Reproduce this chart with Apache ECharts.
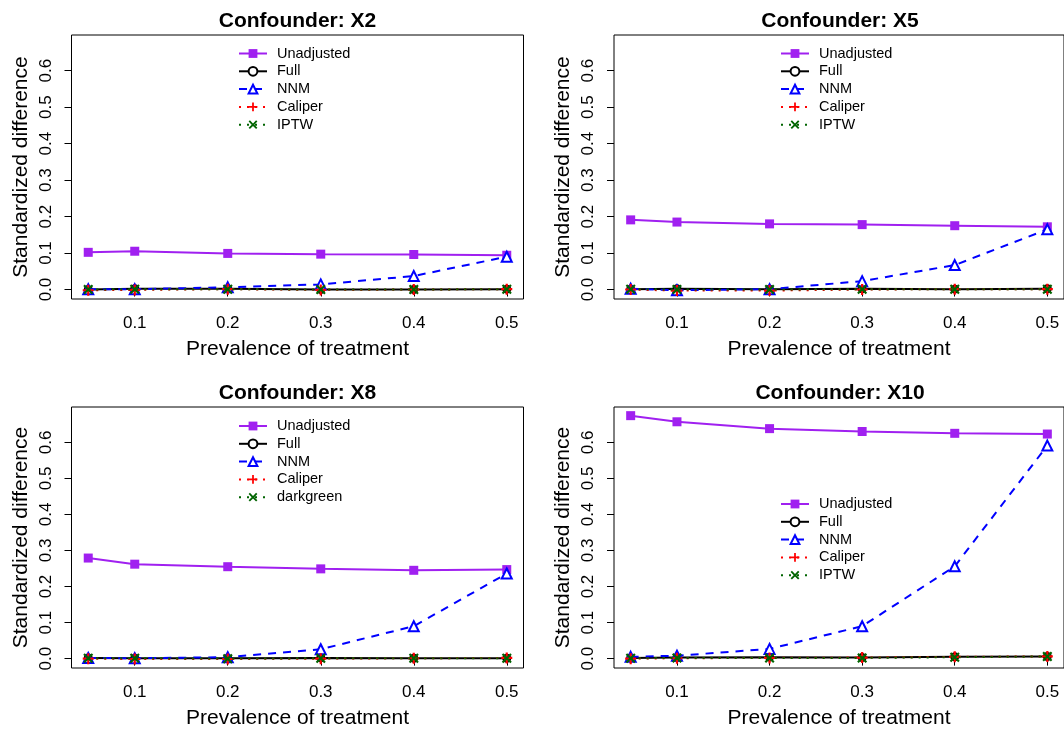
<!DOCTYPE html>
<html>
<head>
<meta charset="utf-8">
<script src="https://cdn.jsdelivr.net/npm/echarts@6/dist/echarts.min.js"></script>
<style>
  html, body { margin: 0; padding: 0; background: #fff; }
  #chart { width: 1064px; height: 730px; }
</style>
</head>
<body>
<div id="chart"></div>
<script>
// ---------------- data ----------------
const prevalence = [0.05, 0.1, 0.2, 0.3, 0.4, 0.5];
const xTicks = [0.1, 0.2, 0.3, 0.4, 0.5];
const yTicks = [0, 0.1, 0.2, 0.3, 0.4, 0.5, 0.6];
const panelTitles = ['Confounder: X2', 'Confounder: X5', 'Confounder: X8', 'Confounder: X10'];
const xTitle = 'Prevalence of treatment';
const yTitle = 'Standardized difference';
const legendNamesX2 = ['Unadjusted', 'Full', 'NNM', 'Caliper', 'IPTW'];
const legendNamesX5 = ['Unadjusted', 'Full', 'NNM', 'Caliper', 'IPTW'];
const legendNamesX8 = ['Unadjusted', 'Full', 'NNM', 'Caliper', 'darkgreen'];
const legendNamesX10 = ['Unadjusted', 'Full', 'NNM', 'Caliper', 'IPTW'];

// Confounder X2
const unadjX2   = [0.102, 0.105, 0.099, 0.097, 0.096, 0.094];
const fullX2    = [0.000, 0.002, 0.002, 0.000, 0.000, 0.001];
const nnmX2     = [0.001, 0.001, 0.006, 0.014, 0.037, 0.090];
const caliperX2 = [-0.002, -0.001, 0.001, -0.001, 0.000, 0.001];
const iptwX2    = [0.000, 0.001, 0.001, 0.000, 0.000, 0.001];
// Confounder X5
const unadjX5   = [0.191, 0.185, 0.180, 0.178, 0.175, 0.172];
const fullX5    = [0.001, 0.002, 0.001, 0.002, 0.001, 0.002];
const nnmX5     = [0.002, -0.002, 0.001, 0.023, 0.067, 0.165];
const caliperX5 = [0.000, -0.003, -0.003, 0.000, 0.001, 0.001];
const iptwX5    = [0.001, 0.000, 0.000, 0.001, 0.001, 0.001];
// Confounder X8
const unadjX8   = [0.279, 0.262, 0.255, 0.249, 0.245, 0.247];
const fullX8    = [0.002, 0.001, 0.001, 0.002, 0.001, 0.001];
const nnmX8     = [0.002, 0.001, 0.004, 0.026, 0.090, 0.236];
const caliperX8 = [0.000, -0.001, -0.001, 0.000, 0.001, 0.002];
const iptwX8    = [0.001, 0.001, 0.000, 0.001, 0.001, 0.001];
// Confounder X10
const unadjX10   = [0.674, 0.657, 0.638, 0.630, 0.625, 0.623];
const fullX10    = [0.002, 0.003, 0.004, 0.003, 0.005, 0.006];
const nnmX10     = [0.005, 0.008, 0.027, 0.090, 0.256, 0.591];
const caliperX10 = [0.000, 0.001, 0.002, 0.003, 0.005, 0.006];
const iptwX10    = [0.001, 0.002, 0.002, 0.002, 0.004, 0.006];

// ---------------- layout / style ----------------
const FONT = 'Liberation Sans, Arial, Helvetica, sans-serif';
const grids = [
  { left: 71.5, top: 35, width: 452, height: 264 },
  { left: 614, top: 35, width: 452, height: 264 },
  { left: 71.5, top: 407, width: 452, height: 264 },
  { left: 614, top: 407, width: 452, height: 264 }
];
const legendPos = [
  { left: 238, top: 46 },
  { left: 780, top: 46 },
  { left: 238, top: 418.5 },
  { left: 780, top: 496.5 }
];
const PLUS = 'path://M4,0H6V4H10V6H6V10H4V6H0V4H4Z';
const CROSS = 'path://M1.5,0L5,3.5L8.5,0L10,1.5L6.5,5L10,8.5L8.5,10L5,6.5L1.5,10L0,8.5L3.5,5L0,1.5Z';

const styles = {
  Unadjusted: { color: '#A020F0', type: 'solid', symbol: 'rect', size: 9, width: 2 },
  Full: { color: '#000000', type: 'solid', symbol: 'emptyCircle', size: 7, width: 2 },
  NNM: { color: '#0000FF', type: [8, 7], symbol: 'emptyTriangle', size: 10, width: 2 },
  Caliper: { color: '#FF0000', type: [2, 6], symbol: PLUS, size: 11, width: 2 },
  IPTW: { color: '#006400', type: [2, 6], symbol: CROSS, size: 10, width: 2 }
};

const panelData = [
  { names: legendNamesX2, values: [unadjX2, fullX2, nnmX2, caliperX2, iptwX2] },
  { names: legendNamesX5, values: [unadjX5, fullX5, nnmX5, caliperX5, iptwX5] },
  { names: legendNamesX8, values: [unadjX8, fullX8, nnmX8, caliperX8, iptwX8] },
  { names: legendNamesX10, values: [unadjX10, fullX10, nnmX10, caliperX10, iptwX10] }
];
const styleKeys = ['Unadjusted', 'Full', 'NNM', 'Caliper', 'IPTW'];

const xAxes = [], yAxes = [], series = [], titles = [], legends = [];
grids.forEach((g, i) => {
  xAxes.push({
    type: 'value', gridIndex: i, min: 0.032, max: 0.518,
    axisLine: { show: false },
    splitLine: { show: false },
    axisTick: { show: true, inside: false, length: 7, customValues: xTicks, lineStyle: { color: '#000', width: 1 } },
    axisLabel: { show: true, customValues: xTicks, margin: 16, fontSize: 17, color: '#000', fontFamily: FONT,
      formatter: v => v.toFixed(1) },
    name: xTitle, nameLocation: 'middle', nameGap: 40,
    nameTextStyle: { fontSize: 21, color: '#000', fontFamily: FONT }
  });
  yAxes.push({
    type: 'value', gridIndex: i, min: -0.026, max: 0.698,
    axisLine: { show: false },
    splitLine: { show: false },
    axisTick: { show: true, inside: false, length: 7, customValues: yTicks, lineStyle: { color: '#000', width: 1 } },
    axisLabel: { show: true, customValues: yTicks, rotate: 90, margin: 17, fontSize: 17, color: '#000', fontFamily: FONT,
      formatter: v => v.toFixed(1) },
    name: yTitle, nameLocation: 'middle', nameGap: 40, nameRotate: 90,
    nameTextStyle: { fontSize: 21, color: '#000', fontFamily: FONT }
  });
  titles.push({
    text: panelTitles[i],
    left: g.left + g.width / 2, top: g.top - 24, textAlign: 'center', padding: 0,
    textStyle: { fontSize: 21, fontWeight: 'bold', color: '#000', fontFamily: FONT }
  });
  const pd = panelData[i];
  pd.values.forEach((vals, k) => {
    const st = styles[styleKeys[k]];
    series.push({
      type: 'line', name: pd.names[k], xAxisIndex: i, yAxisIndex: i,
      data: prevalence.map((p, j) => [p, vals[j]]),
      symbol: st.symbol, symbolSize: st.size, showAllSymbol: true,
      lineStyle: { color: st.color, width: st.width, type: st.type },
      itemStyle: { color: st.color, borderColor: st.color, borderWidth: st.symbol.indexOf('empty') === 0 ? 1.8 : 0 },
      emphasis: { disabled: true },
      animation: false,
      z: 2 + k
    });
  });
  legends.push({
    data: pd.names, orient: 'vertical', left: legendPos[i].left, top: legendPos[i].top,
    padding: 0, itemWidth: 28, itemHeight: 11, itemGap: 2.8, selectedMode: false,
    textStyle: { fontSize: 14.5, color: '#000', fontFamily: FONT, padding: [0, 0, 0, 5] }
  });
});

const chart = echarts.init(document.getElementById('chart'), null, { renderer: 'canvas' });
chart.setOption({
  backgroundColor: '#fff',
  animation: false,
  title: titles,
  legend: legends,
  grid: grids.map(g => Object.assign({ show: true, borderColor: '#000', borderWidth: 1, backgroundColor: 'transparent' }, g)),
  xAxis: xAxes,
  yAxis: yAxes,
  series: series
});
</script>
</body>
</html>
